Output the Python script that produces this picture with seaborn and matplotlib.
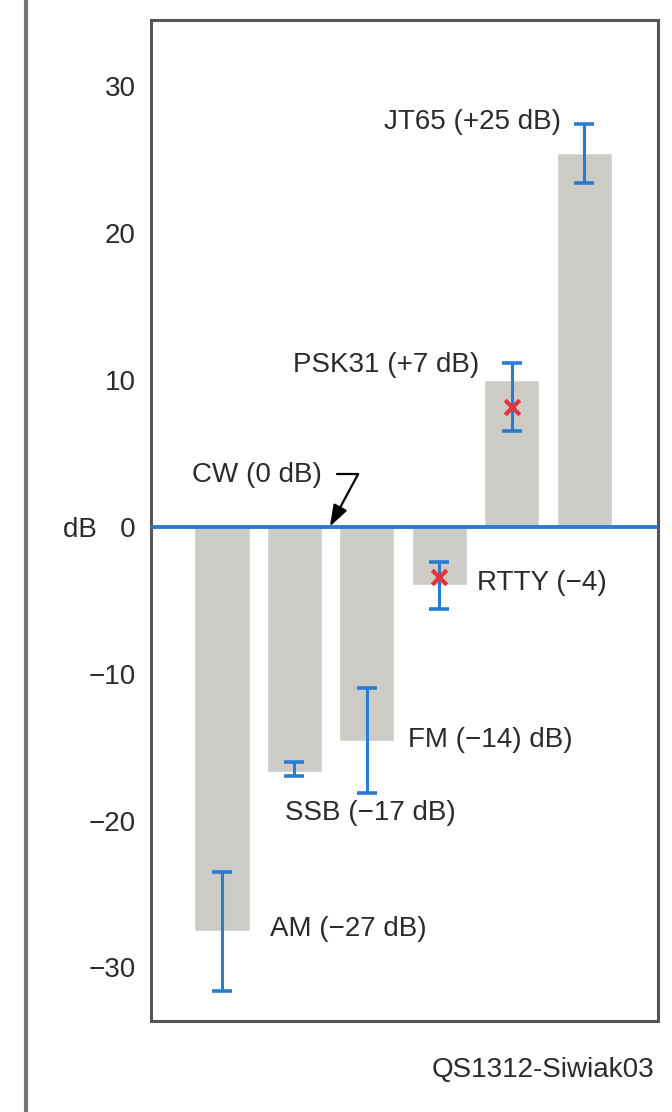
import pandas as pd
import matplotlib
matplotlib.use("Agg")
import matplotlib.pyplot as plt
import seaborn as sns

sns.set_style("white")
plt.rcParams['font.family'] = ['Liberation Sans', 'DejaVu Sans']

# values (dB relative to CW)
modes = ['AM', 'SSB', 'FM', 'RTTY', 'PSK31', 'JT65']
bar_db = [-27.5, -16.7, -14.6, -4.0, 10.0, 25.4]
err_hi = [-23.5, -16.0, -11.0, -2.4, 11.1, 27.4]
err_lo = [-31.6, -17.0, -18.1, -5.6, 6.5, 23.4]
marker_modes = ['RTTY', 'PSK31']
marker_db = [-3.4, 8.1]
labels = ['AM (\u221227 dB)', 'SSB (\u221217 dB)', 'FM (\u221214) dB)',
          'RTTY (\u22124)', 'PSK31 (+7 dB)', 'JT65 (+25 dB)']
yticks = [-30, -20, -10, 0, 10, 20, 30]
ytick_labels = ['\u221230', '\u221220', '\u221210', 'dB   0', '10', '20', '30']

bar_color = '#cdcbc6'
blue = '#2a7bd4'
red = '#e5323c'
frame = '#555555'
txt = '#2b2b2b'

df = pd.DataFrame({'mode': modes, 'db': bar_db})

fig = plt.figure(figsize=(6.72, 11.12), dpi=100)
ax = fig.add_axes([151 / 672, 1 - 1021 / 1112, (658 - 151) / 672, (1021 - 20) / 1112])

sns.barplot(data=df, x='mode', y='db', order=modes, color=bar_color,
            width=0.76, saturation=1, ax=ax)

# zero reference line (CW)
ax.axhline(0, color=blue, lw=2.8, zorder=3)

# error ranges
pos = {m: i for i, m in enumerate(modes)}
xs = [pos[m] for m in modes]
mid = [(h + l) / 2 for h, l in zip(err_hi, err_lo)]
half = [(h - l) / 2 for h, l in zip(err_hi, err_lo)]
ax.errorbar(xs, mid, yerr=half, fmt='none', ecolor=blue, elinewidth=2.2,
            capsize=7, capthick=2.6, zorder=4)
ax.scatter([pos[m] for m in marker_modes], marker_db, marker='x', s=110,
           color=red, linewidths=3, zorder=5)

# labels next to bars
fs = 20
ax.text(4.68, 27.5, labels[5], ha='right', va='center', fontsize=fs, color=txt)
ax.text(3.55, 11.0, labels[4], ha='right', va='center', fontsize=fs, color=txt)
ax.text(3.52, -3.85, labels[3], ha='left', va='center', fontsize=fs, color=txt)
ax.text(2.57, -14.5, labels[2], ha='left', va='center', fontsize=fs, color=txt)
ax.text(0.87, -19.5, labels[1], ha='left', va='center', fontsize=fs, color=txt)
ax.text(0.66, -27.4, labels[0], ha='left', va='center', fontsize=fs, color=txt)
ax.text(1.38, 3.5, 'CW (0 dB)', ha='right', va='center', fontsize=fs, color=txt)

# bent pointer to the zero line
ax.plot([1.59, 1.88], [3.57, 3.57], color='black', lw=1.6, zorder=6)
ax.annotate('', xy=(1.49, 0), xytext=(1.88, 3.57),
            arrowprops=dict(arrowstyle='-|>,head_length=1.3,head_width=0.45',
                            color='black', lw=1.6, shrinkA=0, shrinkB=0),
            zorder=6)

ax.set_xlim(-0.98, 6.02)
ax.set_ylim(-33.64, 34.46)
ax.set_yticks(yticks)
ax.set_yticklabels(ytick_labels, fontsize=fs, color=txt)
ax.set_xticks([])
ax.set_xlabel('')
ax.set_ylabel('')
ax.tick_params(axis='y', direction='in', length=16, width=1.6, color=frame, pad=11)
for s in ax.spines.values():
    s.set_visible(True)
    s.set_color(frame)
    s.set_linewidth(2.2)

# page rule on the left and figure id
fig.add_artist(plt.Line2D([26 / 672, 26 / 672], [0, 1], transform=fig.transFigure,
                          color='#777777', lw=3))
fig.text(654 / 672, 1 - 1070 / 1112, 'QS1312-Siwiak03', ha='right', va='center',
         fontsize=fs, color=txt)

fig.savefig('out.png', dpi=100, facecolor='white')
